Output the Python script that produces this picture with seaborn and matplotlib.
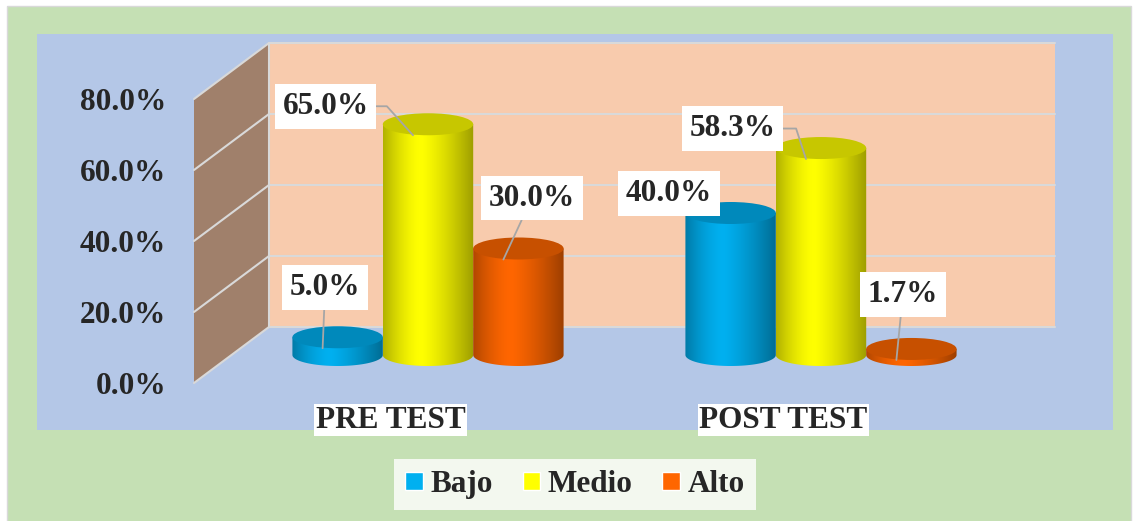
import numpy as np
import pandas as pd
import matplotlib
matplotlib.use("Agg")
import matplotlib.pyplot as plt
import seaborn as sns
from matplotlib.patches import Polygon, Ellipse, Rectangle, Patch
from matplotlib.ticker import PercentFormatter
from matplotlib.colors import to_rgb
from matplotlib.transforms import ScaledTranslation

# Datos del gráfico
momentos = ['PRE TEST', 'POST TEST']
niveles = ['Bajo', 'Medio', 'Alto']
bajo = [5.0, 40.0]
medio = [65.0, 58.3]
alto = [30.0, 1.7]
yticks = [0, 20, 40, 60, 80]

colores = {'Bajo': '#00B0F0', 'Medio': '#FFFF00', 'Alto': '#FF6600'}

df = pd.DataFrame({
    'momento': momentos * 3,
    'nivel': np.repeat(niveles, len(momentos)),
    'pct': bajo + medio + alto,
})

sns.set_style('white')
plt.rcParams['font.family'] = ['Liberation Serif', 'DejaVu Serif']
plt.rcParams['font.weight'] = 'bold'
FS = 22.5

W, H = 1138, 521
fig = plt.figure(figsize=(W / 100, H / 100), dpi=100, facecolor='white')


def px(x0, y0, x1, y1):
    # caja en pixeles de imagen (y hacia abajo) -> fraccion de figura
    return [x0 / W, 1 - y1 / H, (x1 - x0) / W, (y1 - y0) / H]


DX, DY = 75, 56  # profundidad del efecto 3D (px)

# fondo: marco verde, area azul, paredes
ax_bg = fig.add_axes([0, 0, 1, 1], zorder=0)
ax_bg.set_xlim(0, W)
ax_bg.set_ylim(H, 0)
ax_bg.set_axis_off()

ax_front = fig.add_axes(px(194, 99, 980, 383), zorder=2)
ax = fig.add_axes(px(194 + DX / 2, 99 - DY / 2, 980 + DX / 2, 383 - DY / 2), zorder=1)
for a in (ax, ax_front):
    a.set_xlim(-0.5, 1.5)
    a.set_ylim(0, 80)


def img_xy(a, x, y):
    dx, dy = a.transData.transform((x, y))
    return dx, H - dy


ax_bg.add_patch(Rectangle((7, 6), 1124, 520, facecolor='#C5E0B4', edgecolor='#D9D9D9', lw=1))
ax_bg.add_patch(Rectangle((37, 34), 1076, 396, facecolor='#B4C7E7', edgecolor='none'))

xl, y0f = img_xy(ax_front, -0.5, 0)
xr, y80f = img_xy(ax_front, 1.5, 80)
ax_bg.add_patch(Polygon([(xl, y0f), (xl, y80f), (xl + DX, y80f - DY), (xl + DX, y0f - DY)],
                        facecolor='#A0806B', edgecolor='none'))
ax_bg.add_patch(Polygon([(xl + DX, y80f - DY), (xr + DX, y80f - DY), (xr + DX, y0f - DY), (xl + DX, y0f - DY)],
                        facecolor='#F8CBAD', edgecolor='none'))
for v in yticks:
    _, yf = img_xy(ax_front, 0, v)
    ax_bg.plot([xl, xl + DX, xr + DX], [yf, yf - DY, yf - DY], color='#D9D9D9', lw=1.5)
ax_bg.plot([xl + DX, xl + DX], [y80f - DY, y0f - DY], color='#D9D9D9', lw=1.5)

# barras (cilindros) en el plano medio
sns.barplot(data=df, x='momento', y='pct', hue='nivel', order=momentos, hue_order=niveles,
            palette=colores, width=0.69, errorbar=None, legend=False, ax=ax)
ax.set_xlim(-0.5, 1.5)
ax.set_ylim(0, 80)
ax.set_axis_off()

RY = 11 / (284 / 80)  # semieje vertical de las elipses en unidades de datos
t = np.linspace(0, 1, 80)
sombra = 1 - 0.38 * (np.abs(t - 0.42) / 0.58) ** 1.3
sombra[t < 0.42] = 1 - 0.30 * (np.abs(t[t < 0.42] - 0.42) / 0.42) ** 1.6
th = np.linspace(0, np.pi, 60)

# posicion de cada etiqueta (px) respecto al borde frontal de la tapa; tipo de guia
etq_off = [(2.5, 60.5), (-46.5, 30.5), (-87.5, 29), (-73.5, 30.5), (28.5, 61.5), (6.5, 65.5)]
guia = ['recta', None, 'codo', 'codo', 'recta', 'recta']
codo_ang = [0, 0, -48, -72, 0, 0]
punto = ax.transData + ScaledTranslation(-0.15, -0.11, fig.dpi_scale_trans)

i = 0
for k, (cont, nivel) in enumerate(zip(ax.containers, niveles)):
    base = np.array(to_rgb(colores[nivel]))
    for bar in cont:
        x0, w, h = bar.get_x(), bar.get_width(), bar.get_height()
        cx = x0 + w / 2
        z = 3 + k
        pts = [(x0, h), (x0, 0)] + list(zip(cx - w / 2 * np.cos(th), -RY * np.sin(th))) + [(x0 + w, h)]
        cuerpo = Polygon(pts, closed=True, transform=ax.transData)
        grad = np.clip(base[None, None, :] * sombra[None, :, None], 0, 1)
        im = ax.imshow(grad, extent=(x0, x0 + w, -RY, h), aspect='auto',
                       interpolation='bilinear', zorder=z)
        im.set_clip_box(fig.bbox)
        im.set_clip_path(cuerpo)
        ax.add_patch(Ellipse((cx, h), w, 2 * RY, facecolor=base * 0.78, edgecolor='none',
                             zorder=z + 0.5, clip_on=False))
        bar.set_visible(False)

        arrow = None
        if guia[i] == 'recta':
            arrow = dict(arrowstyle='-', color='#A6A6A6', lw=1.3, shrinkA=0, shrinkB=0)
        elif guia[i] == 'codo':
            arrow = dict(arrowstyle='-', color='#A6A6A6', lw=1.3, shrinkA=0, shrinkB=0, relpos=(1, 0.5),
                         connectionstyle=f'angle,angleA=0,angleB={codo_ang[i]},rad=0')
        ax.annotate(f'{h:.1f}%', xy=(cx, h), xycoords=punto,
                    xytext=etq_off[i], textcoords='offset pixels', ha='center', va='center',
                    fontsize=FS, fontweight='bold', zorder=20, annotation_clip=False,
                    bbox=dict(boxstyle='square,pad=0.25', facecolor='white', edgecolor='none'),
                    arrowprops=arrow)
        i += 1
ax.set_xlim(-0.5, 1.5)
ax.set_ylim(0, 80)

# eje frontal: etiquetas de porcentaje y categorias
ax_front.patch.set_visible(False)
for s in ax_front.spines.values():
    s.set_visible(False)
ax_front.set_yticks(yticks)
ax_front.yaxis.set_major_formatter(PercentFormatter(decimals=1))
ax_front.set_xticks(range(len(momentos)), momentos)
ax_front.tick_params(axis='y', length=0, pad=20, labelsize=FS)
ax_front.tick_params(axis='x', length=0, pad=16.5, labelsize=FS)
for lab in ax_front.get_xticklabels() + ax_front.get_yticklabels():
    lab.set_fontweight('bold')
for lab in ax_front.get_xticklabels():
    lab.set_bbox(dict(facecolor='white', edgecolor='none', boxstyle='square,pad=0.05'))

handles = [Patch(facecolor=colores[n], label=n) for n in niveles]
leg = fig.legend(handles=handles, loc='center', bbox_to_anchor=(575 / W, 1 - 484.5 / H), ncol=3,
                 frameon=True, fancybox=False, prop={'size': FS, 'weight': 'bold'},
                 handlelength=0.55, handleheight=0.55, handletextpad=0.25, columnspacing=0.95,
                 borderpad=0.36)
leg.get_frame().set_facecolor('white')
leg.get_frame().set_edgecolor('none')

fig.savefig('out.png', dpi=100, facecolor=fig.get_facecolor())
